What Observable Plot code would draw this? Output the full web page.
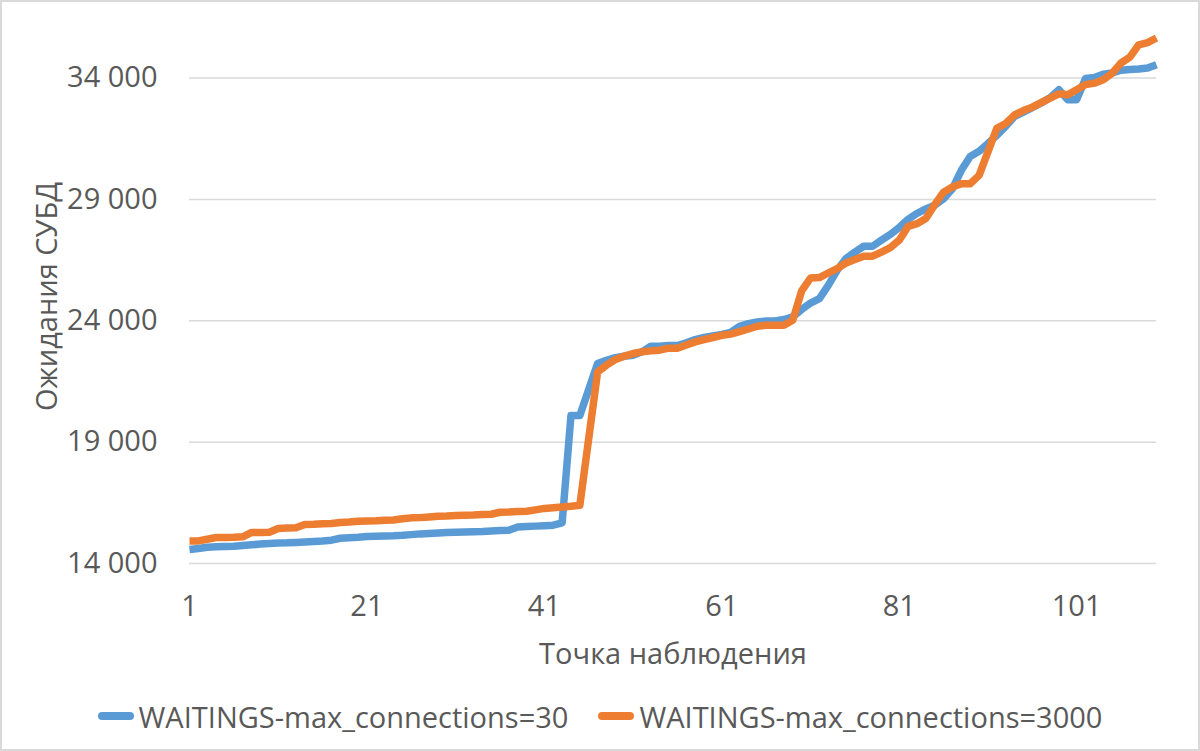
<!DOCTYPE html>
<html>
<head>
<meta charset="utf-8">
<script src="https://cdn.jsdelivr.net/npm/d3@7"></script>
<script src="https://cdn.jsdelivr.net/npm/@observablehq/plot@0.6"></script>
<style>
  html, body { margin: 0; padding: 0; background: #fff; }
  #frame { position: relative; width: 1200px; height: 751px; outline: 2px solid #d9d9d9; outline-offset: -2px; overflow: hidden; font-family: 'Open Sans', sans-serif; }
  #chart { position: absolute; left: 0; top: 0; }
  #legend { position: absolute; left: 0; top: 696px; width: 1200px; height: 40px; display: flex; justify-content: center; align-items: center; gap: 30px; font-size: 29px; color: #595959; }
  .item { display: flex; align-items: center; gap: 5px; white-space: nowrap; }
  .sw { display: inline-block; width: 36px; height: 8px; border-radius: 4px; }
</style>
</head>
<body>
<div id="frame">
  <div id="chart"></div>
  <div id="legend"></div>
</div>
<script>
const seriesNames = ["WAITINGS-max_connections=30", "WAITINGS-max_connections=3000"];
const seriesColors = ["#5B9BD5", "#ED7D31"];
const xTicks = [1, 21, 41, 61, 81, 101];
const yTicks = [14000, 19000, 24000, 29000, 34000];
const xLabel = "Точка наблюдения";
const yLabel = "Ожидания СУБД";

const waits30 = [
  14580, 14620, 14670, 14690, 14700, 14710, 14740, 14770, 14800, 14820,
  14840, 14850, 14870, 14890, 14910, 14930, 14960, 15040, 15060, 15080,
  15110, 15120, 15130, 15140, 15160, 15190, 15220, 15240, 15260, 15280,
  15290, 15300, 15310, 15320, 15340, 15360, 15370, 15500, 15520, 15540,
  15560, 15580, 15670, 20100, 20100, 21170, 22240, 22370, 22480, 22540,
  22580, 22720, 22950, 22950, 22980, 22980, 23090, 23225, 23310, 23375,
  23440, 23520, 23770, 23880, 23950, 23995, 23995, 24050, 24160, 24460,
  24730, 24910, 25460, 26080, 26560, 26830, 27070, 27070, 27320, 27560,
  27840, 28180, 28420, 28610, 28760, 29030, 29440, 30200, 30770, 30980,
  31300, 31640, 32010, 32420, 32600, 32780, 32970, 33190, 33520, 33110,
  33110, 33980, 34020, 34160, 34210, 34320, 34350, 34370, 34410, 34550
];
const waits3000 = [
  14930, 14930, 15000, 15070, 15070, 15080, 15100, 15280, 15280, 15290,
  15440, 15460, 15470, 15610, 15620, 15640, 15650, 15690, 15710, 15740,
  15750, 15760, 15780, 15790, 15840, 15880, 15890, 15920, 15950, 15960,
  15980, 15990, 16000, 16020, 16030, 16110, 16120, 16140, 16150, 16210,
  16270, 16300, 16330, 16360, 16400, 19150, 21890, 22170, 22400, 22540,
  22650, 22720, 22760, 22790, 22870, 22870, 23000, 23130, 23225, 23310,
  23400, 23450, 23550, 23660, 23775, 23815, 23815, 23815, 24020, 25230,
  25760, 25780, 25970, 26150, 26380, 26520, 26660, 26660, 26830, 27010,
  27320, 27890, 28000, 28210, 28780, 29300, 29510, 29650, 29650, 29990,
  30960, 31930, 32130, 32480, 32660, 32800, 32990, 33170, 33350, 33310,
  33520, 33730, 33790, 33930, 34200, 34620, 34860, 35370, 35460, 35650
];

const seriesValues = [waits30, waits3000];
const rows = seriesValues.flatMap((vals, s) =>
  vals.map((v, i) => ({point: i + 1, value: v, series: seriesNames[s]}))
);
const fmt = d => d3.format(",")(d).replace(/,/g, "\u00a0");

const chart = Plot.plot({
  width: 1200,
  height: 690,
  marginLeft: 189,
  marginRight: 44,
  marginTop: 29,
  marginBottom: 127,
  style: {fontFamily: "'Open Sans', sans-serif", fontSize: "29px", color: "#595959", background: "transparent", overflow: "visible"},
  x: {domain: [1, waits30.length]},
  y: {domain: [14000, 36000]},
  color: {domain: seriesNames, range: seriesColors},
  marks: [
    Plot.gridY(yTicks, {stroke: "#d9d9d9", strokeOpacity: 1, strokeWidth: 1.5}),
    Plot.axisY(yTicks, {tickSize: 0, tickPadding: 32, tickFormat: fmt, label: yLabel, labelAnchor: "center", labelOffset: 153, labelArrow: "none"}),
    Plot.axisX(xTicks, {tickSize: 0, tickPadding: 32, tickFormat: d => String(d), label: xLabel, labelAnchor: "center", labelOffset: 100, labelArrow: "none"}),
    Plot.line(rows, {x: "point", y: "value", z: "series", stroke: "series", strokeWidth: 7.5, strokeLinejoin: "round", strokeLinecap: "butt"})
  ]
});
document.getElementById("chart").appendChild(chart);

const legend = document.getElementById("legend");
seriesNames.forEach((name, i) => {
  const item = document.createElement("span");
  item.className = "item";
  const sw = document.createElement("span");
  sw.className = "sw";
  sw.style.background = seriesColors[i];
  item.appendChild(sw);
  item.appendChild(document.createTextNode(name));
  legend.appendChild(item);
});
</script>
</body>
</html>
